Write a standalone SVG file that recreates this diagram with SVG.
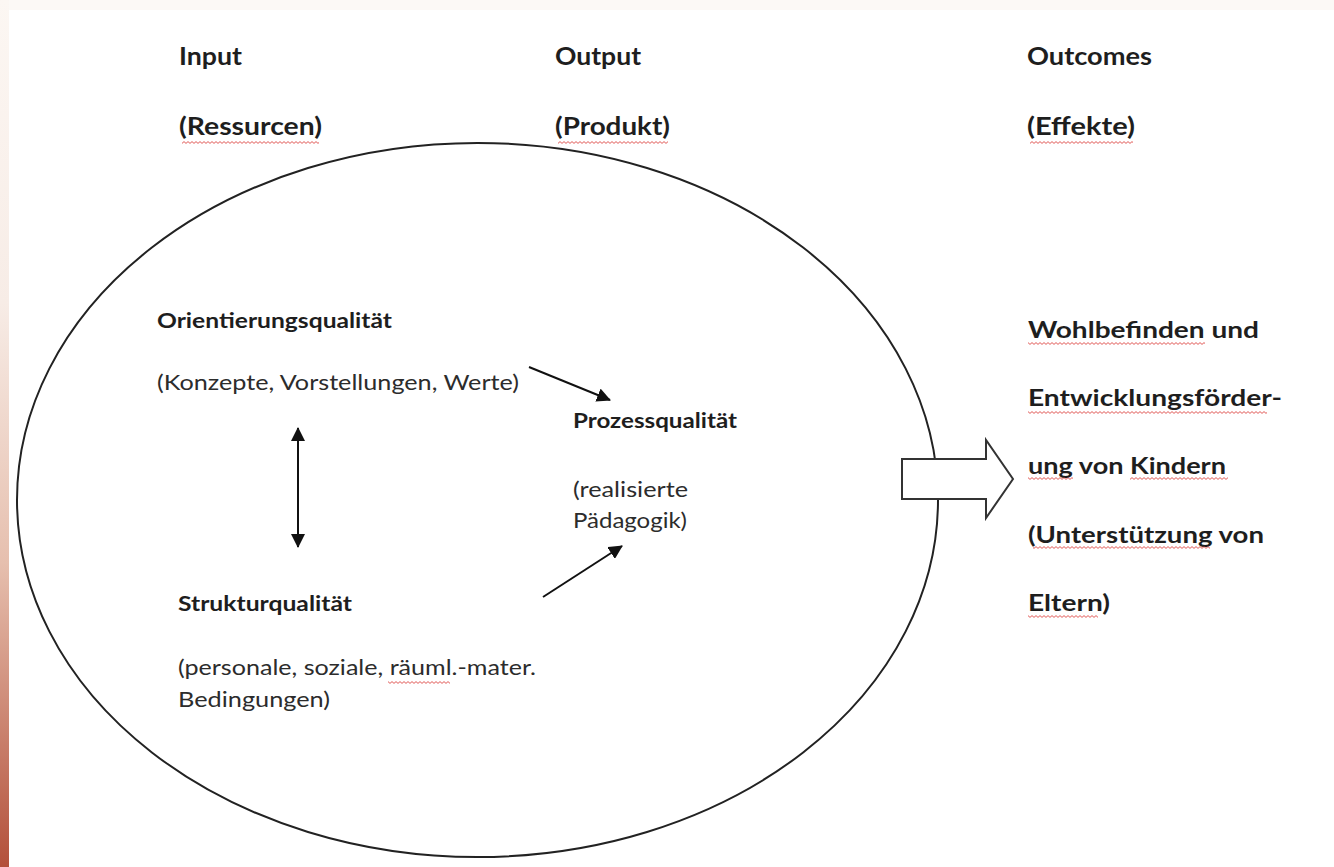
<svg xmlns="http://www.w3.org/2000/svg" width="1334" height="867" viewBox="0 0 1334 867">
  <defs>
    <linearGradient id="strip" x1="0" y1="0" x2="0" y2="1">
      <stop offset="0" stop-color="#fcf7f3"/>
      <stop offset="0.35" stop-color="#f7ece6"/>
      <stop offset="0.65" stop-color="#e6bfae"/>
      <stop offset="1" stop-color="#b3503a"/>
    </linearGradient>
    <pattern id="wave" width="4" height="3" patternUnits="userSpaceOnUse">
      <path d="M0 0.6 L2 2.4 L4 0.6" fill="none" stroke="#d9302c" stroke-width="0.8"/>
    </pattern>
    <marker id="head" viewBox="0 0 14 14" refX="13" refY="7" markerWidth="14" markerHeight="14" markerUnits="userSpaceOnUse" orient="auto-start-reverse">
      <path d="M0 0 L14 7 L0 14 Z" fill="#111"/>
    </marker>
    <style>
      text { font-family: Lato, "Open Sans", "Liberation Sans", sans-serif; fill: #1e1e1e; }
      .hd { font-size: 24px; font-weight: bold; }
      .nb { font-size: 20px; font-weight: bold; }
      .nr { font-size: 21px; fill: #2c2c2c; }
      .out { font-size: 23px; font-weight: bold; }
      .conn { stroke: #111; stroke-width: 2; fill: none; }
      .sp { fill: url(#wave); }
    </style>
  </defs>

  <rect x="0" y="0" width="1334" height="867" fill="#ffffff"/>
  <rect x="0" y="0" width="1334" height="10" fill="#fcf9f6"/>
  <rect x="0" y="0" width="9" height="867" fill="url(#strip)"/>

  <g id="headers">
    <g id="header-input">
      <text class="hd" x="179" y="65" textLength="63" lengthAdjust="spacingAndGlyphs">Input</text>
      <text class="hd" x="179" y="135" textLength="143" lengthAdjust="spacingAndGlyphs">(Ressurcen)</text>
      <rect class="sp" x="182" y="141" width="137" height="3"/>
    </g>
    <g id="header-output">
      <text class="hd" x="555" y="65" textLength="86" lengthAdjust="spacingAndGlyphs">Output</text>
      <text class="hd" x="555" y="135" textLength="115" lengthAdjust="spacingAndGlyphs">(Produkt)</text>
      <rect class="sp" x="558" y="141" width="110" height="3"/>
    </g>
    <g id="header-outcomes">
      <text class="hd" x="1027" y="65" textLength="125" lengthAdjust="spacingAndGlyphs">Outcomes</text>
      <text class="hd" x="1027" y="135" textLength="108" lengthAdjust="spacingAndGlyphs">(Effekte)</text>
      <rect class="sp" x="1030" y="141" width="103" height="3"/>
    </g>
  </g>

  <g id="frame">
    <ellipse cx="477.5" cy="500" rx="460.5" ry="357" fill="none" stroke="#222" stroke-width="2"/>
  </g>

  <g id="node-orientierung">
    <text class="nb" x="157" y="328" textLength="235" lengthAdjust="spacingAndGlyphs">Orientierungsqualität</text>
    <text class="nr" x="157" y="390" textLength="362" lengthAdjust="spacingAndGlyphs">(Konzepte, Vorstellungen, Werte)</text>
  </g>

  <g id="node-prozess">
    <text class="nb" x="573" y="428" textLength="164" lengthAdjust="spacingAndGlyphs">Prozessqualität</text>
    <text class="nr" x="573" y="497" textLength="115" lengthAdjust="spacingAndGlyphs">(realisierte</text>
    <text class="nr" x="573" y="528" textLength="114" lengthAdjust="spacingAndGlyphs">Pädagogik)</text>
  </g>

  <g id="node-struktur">
    <text class="nb" x="178" y="611" textLength="174" lengthAdjust="spacingAndGlyphs">Strukturqualität</text>
    <text class="nr" x="178" y="675" textLength="358" lengthAdjust="spacingAndGlyphs">(personale, soziale, räuml.-mater.</text>
    <text class="nr" x="178" y="707" textLength="152" lengthAdjust="spacingAndGlyphs">Bedingungen)</text>
    <rect class="sp" x="388" y="681" width="62" height="3"/>
  </g>

  <g id="node-outcomes">
    <text class="out" x="1028" y="338" textLength="231" lengthAdjust="spacingAndGlyphs">Wohlbefinden und</text>
    <text class="out" x="1028" y="406" textLength="254" lengthAdjust="spacingAndGlyphs">Entwicklungsförder-</text>
    <text class="out" x="1028" y="474" textLength="198" lengthAdjust="spacingAndGlyphs">ung von Kindern</text>
    <text class="out" x="1028" y="543" textLength="236" lengthAdjust="spacingAndGlyphs">(Unterstützung von</text>
    <text class="out" x="1028" y="611" textLength="82" lengthAdjust="spacingAndGlyphs">Eltern)</text>
    <rect class="sp" x="1028" y="342" width="177" height="3"/>
    <rect class="sp" x="1028" y="411" width="239" height="3"/>
    <rect class="sp" x="1028" y="477" width="45" height="3"/>
    <rect class="sp" x="1130" y="477" width="98" height="3"/>
    <rect class="sp" x="1033" y="546" width="177" height="3"/>
    <rect class="sp" x="1028" y="615" width="70" height="3"/>
  </g>

  <g id="connectors">
    <line class="conn" x1="298" y1="428" x2="298" y2="547" marker-start="url(#head)" marker-end="url(#head)"/>
    <line class="conn" x1="529" y1="367" x2="610" y2="400" marker-end="url(#head)"/>
    <line class="conn" x1="543" y1="597" x2="622" y2="546" marker-end="url(#head)"/>
    <polygon id="outcome-arrow" points="902,459 986,459 986,440 1013,479 986,518 986,499 902,499" fill="#fff" stroke="#333" stroke-width="2" stroke-linejoin="miter"/>
  </g>
</svg>
